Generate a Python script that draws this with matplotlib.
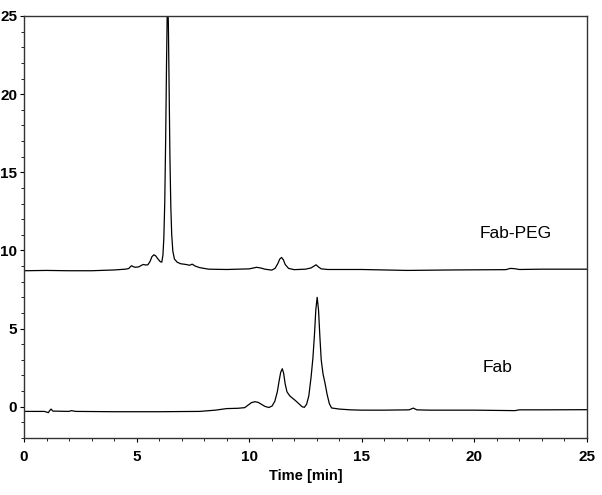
import matplotlib.pyplot as plt
from matplotlib.ticker import MultipleLocator

plt.rcParams['font.family'] = ['Liberation Sans', 'DejaVu Sans']

# Fab-PEG trace (time in min, signal)
peg_time = [0.0, 1.0, 2.0, 3.0, 4.0, 4.5, 4.65, 4.72, 4.78, 4.85, 4.95, 5.1,
            5.22, 5.3, 5.4, 5.5, 5.6, 5.68, 5.77, 5.85, 5.95, 6.05, 6.12,
            6.17, 6.21, 6.25, 6.29, 6.33, 6.36, 6.38, 6.41, 6.44, 6.48, 6.52,
            6.56, 6.61, 6.68, 6.80, 6.95, 7.2, 7.35, 7.47, 7.6, 7.8, 8.2,
            9.0, 10.0, 10.2, 10.33, 10.5, 10.7, 11.0, 11.15, 11.27, 11.36,
            11.44, 11.52, 11.6, 11.75, 12.0, 12.5, 12.75, 12.88, 12.97,
            13.07, 13.2, 13.5, 15.0, 17.0, 19.0, 21.4, 21.6, 21.8, 22.0,
            23.0, 25.0]
peg_signal = [8.70, 8.72, 8.70, 8.70, 8.75, 8.80, 8.84, 8.95, 9.02, 8.96,
              8.92, 8.95, 9.05, 9.10, 9.07, 9.08, 9.30, 9.60, 9.72, 9.65,
              9.45, 9.28, 9.25, 9.70, 10.8, 13.0, 17.0, 22.0, 25.2, 25.9,
              24.6, 21.0, 16.0, 12.8, 11.0, 9.95, 9.45, 9.25, 9.15, 9.10,
              9.05, 9.12, 9.00, 8.90, 8.80, 8.78, 8.82, 8.88, 8.92, 8.88,
              8.80, 8.74, 8.85, 9.15, 9.45, 9.55, 9.40, 9.10, 8.85, 8.77,
              8.80, 8.88, 9.00, 9.08, 8.95, 8.82, 8.78, 8.78, 8.72, 8.75,
              8.77, 8.85, 8.83, 8.78, 8.80, 8.80]

# Fab trace
fab_time = [0.0, 0.9, 1.0, 1.08, 1.14, 1.2, 1.28, 2.0, 2.1, 2.3, 4.0, 6.0, 7.8,
            8.5, 9.0, 9.5, 9.8, 9.95, 10.1, 10.25, 10.4, 10.55, 10.7, 10.88,
            11.02, 11.14, 11.25, 11.33, 11.4, 11.47, 11.53, 11.6, 11.68,
            11.8, 11.92, 12.05, 12.2, 12.35, 12.45, 12.55, 12.65, 12.75,
            12.83, 12.9, 12.96, 13.02, 13.08, 13.14, 13.2, 13.28, 13.37,
            13.46, 13.56, 13.66, 14.0, 14.5, 15.0, 16.0, 17.1, 17.29, 17.45,
            18.0, 20.0, 21.8, 22.0, 23.0, 25.0]
fab_signal = [-0.30, -0.30, -0.34, -0.38, -0.25, -0.15, -0.28, -0.30, -0.25,
              -0.30, -0.32, -0.32, -0.30, -0.22, -0.12, -0.10, -0.06, 0.10,
              0.26, 0.32, 0.28, 0.15, 0.02, -0.05, 0.05, 0.35, 0.95, 1.65,
              2.20, 2.43, 2.15, 1.45, 0.95, 0.70, 0.55, 0.40, 0.20, 0.00,
              -0.04, 0.15, 0.70, 1.90, 3.10, 4.60, 6.20, 7.00, 6.20, 4.50,
              3.00, 2.10, 1.50, 0.80, 0.20, -0.08, -0.15, -0.20, -0.22,
              -0.22, -0.20, -0.09, -0.20, -0.22, -0.22, -0.25, -0.20, -0.20,
              -0.19]

fig = plt.figure(figsize=(6.02, 4.95), dpi=100)
ax = fig.add_axes([0.0399, 0.1152, 0.935, 0.8525])

ax.plot(peg_time, peg_signal, color='black', linewidth=0.9)
ax.plot(fab_time, fab_signal, color='black', linewidth=0.9)

ax.text(20.25, 11.1, 'Fab-PEG', fontsize=12.5, va='center', ha='left')
ax.text(20.37, 2.5, 'Fab', fontsize=12.5, va='center', ha='left')

ax.set_xlim(0, 25)
ax.set_ylim(-2, 25)
ax.xaxis.set_major_locator(MultipleLocator(5))
ax.xaxis.set_minor_locator(MultipleLocator(1))
ax.yaxis.set_minor_locator(MultipleLocator(1))
ax.set_yticks([0, 5, 10, 15, 20, 25])

ax.tick_params(which='major', direction='out', length=3, width=0.8,
               labelsize=11, pad=6)
ax.tick_params(which='minor', direction='out', length=2, width=0.6)
for lab in ax.get_xticklabels() + ax.get_yticklabels():
    lab.set_fontweight('bold')
ax.tick_params(axis='y', pad=2)

for s in ax.spines.values():
    s.set_linewidth(1.0)
    s.set_color('0.2')

ax.set_xlabel('Time [min]', fontsize=10.5, fontweight='bold', labelpad=3)

plt.savefig('out.png', dpi=100)
